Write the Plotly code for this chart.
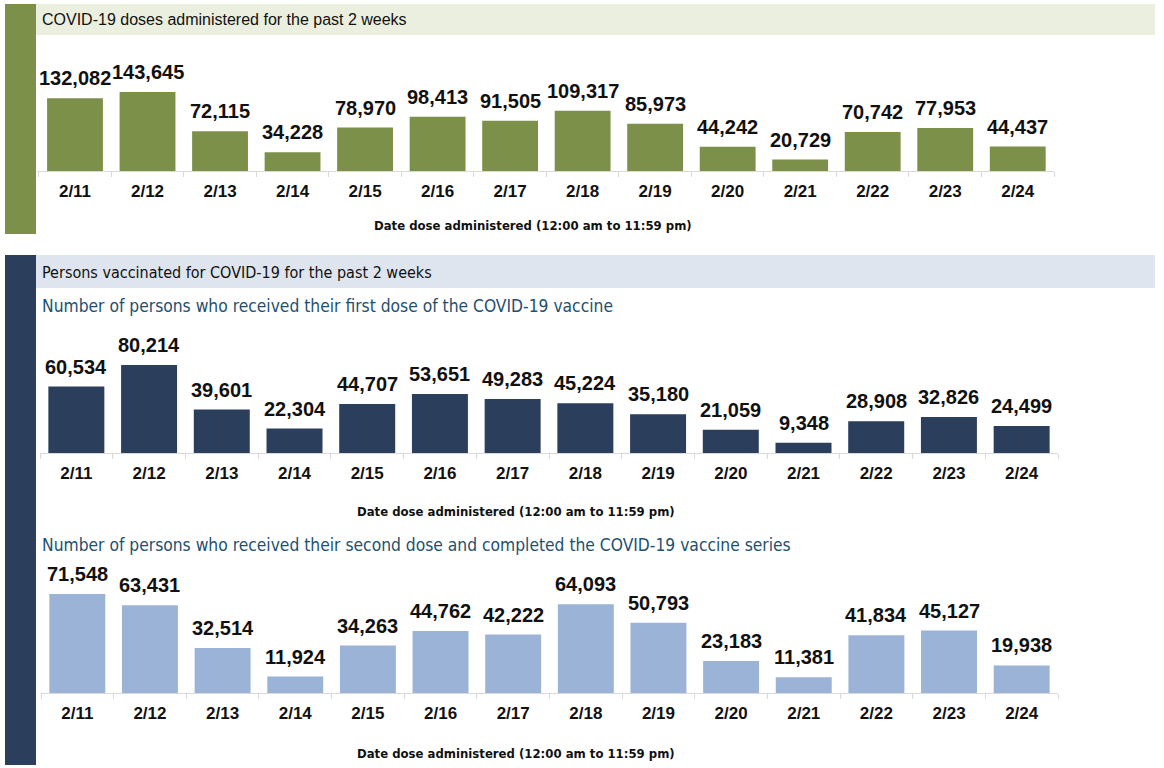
import plotly.graph_objects as go

W, H = 1164, 768

dates = ['2/11', '2/12', '2/13', '2/14', '2/15', '2/16', '2/17',
         '2/18', '2/19', '2/20', '2/21', '2/22', '2/23', '2/24']
doses_administered = [132082, 143645, 72115, 34228, 78970, 98413, 91505,
                      109317, 85973, 44242, 20729, 70742, 77953, 44437]
first_dose = [60534, 80214, 39601, 22304, 44707, 53651, 49283,
              45224, 35180, 21059, 9348, 28908, 32826, 24499]
second_dose = [71548, 63431, 32514, 11924, 34263, 44762, 42222,
               64093, 50793, 23183, 11381, 41834, 45127, 19938]

title_top = "COVID-19 doses administered for the past 2 weeks"
title_persons = "Persons vaccinated for COVID-19 for the past 2 weeks"
sub_first = "Number of persons who received their first dose of the COVID-19 vaccine"
sub_second = "Number of persons who received their second dose and completed the COVID-19 vaccine series"
x_title = "Date dose administered (12:00 am to 11:59 pm)"

GREEN = "#7D9049"
GREEN_BAND = "#EBEFDF"
NAVY = "#2B3E5C"
BLUE_BAND = "#DEE5EF"
LIGHT_BLUE = "#9BB3D6"
SUB_COLOR = "#22506F"
NARROW = "Liberation Sans Narrow, DejaVu Sans Condensed, Liberation Sans"

def px_x(x):
    return x / W

def px_y(y):
    return 1 - y / H

panels = [
    (doses_administered, GREEN, (37, 1054), (40, 171), 238000, "x", "y"),
    (first_dose, NAVY, (40, 1058), (330, 453), 112000, "x2", "y2"),
    (second_dose, LIGHT_BLUE, (41, 1058), (575, 693), 85300, "x3", "y3"),
]

fig = go.Figure()
annotations = []
layout_axes = {}
for i, (vals, color, (x0, x1), (yt, yb), ymax, xa, ya) in enumerate(panels):
    fig.add_trace(go.Bar(x=dates, y=vals, marker=dict(color=color, line=dict(width=0)),
                         xaxis=xa, yaxis=ya, showlegend=False, hoverinfo="x+y"))
    suffix = "" if i == 0 else str(i + 1)
    layout_axes["xaxis" + suffix] = dict(
        domain=[px_x(x0), px_x(x1)], anchor="y" + suffix, type="category",
        showline=True, linecolor="#D9D9D9", linewidth=1,
        ticks="outside", tickson="boundaries", ticklen=5, tickcolor="#D9D9D9",
        tickfont=dict(family="Liberation Sans", size=17, color="#111111", weight="bold"),
        ticklabelstandoff=5, showgrid=False, zeroline=False, fixedrange=True)
    layout_axes["yaxis" + suffix] = dict(
        domain=[px_y(yb), px_y(yt)], anchor="x" + suffix, range=[0, ymax],
        visible=False, showgrid=False, zeroline=False, fixedrange=True)
    for d, v in zip(dates, vals):
        annotations.append(dict(
            x=d, y=v, xref=xa, yref=ya, text=f"{v:,}", showarrow=False,
            yanchor="bottom", yshift=7,
            font=dict(family="Liberation Sans", size=20, color="#111111", weight="bold")))

annotations += [
    dict(x=px_x(40), y=px_y(20), xref="paper", yref="paper", xanchor="left", yanchor="middle",
         text=title_top, showarrow=False,
         font=dict(family="Liberation Sans", size=16, color="#111111")),
    dict(x=px_x(40), y=px_y(272), xref="paper", yref="paper", xanchor="left", yanchor="middle",
         text=title_persons, showarrow=False,
         font=dict(family=NARROW, size=16, color="#111111")),
    dict(x=px_x(40), y=px_y(306), xref="paper", yref="paper", xanchor="left", yanchor="middle",
         text=sub_first, showarrow=False,
         font=dict(family=NARROW, size=17.3, color=SUB_COLOR)),
    dict(x=px_x(40), y=px_y(545), xref="paper", yref="paper", xanchor="left", yanchor="middle",
         text=sub_second, showarrow=False,
         font=dict(family=NARROW, size=17.3, color=SUB_COLOR)),
]
for cx, cy in [(533, 225), (516, 511), (516, 753)]:
    annotations.append(dict(
        x=px_x(cx), y=px_y(cy), xref="paper", yref="paper", xanchor="center", yanchor="middle",
        text=f"<b>{x_title}</b>", showarrow=False,
        font=dict(family=NARROW, size=13, color="#111111")))

shapes = [
    dict(type="rect", xref="paper", yref="paper", x0=px_x(36), x1=px_x(1155), y0=px_y(35), y1=px_y(4),
         fillcolor=GREEN_BAND, line=dict(width=0), layer="below"),
    dict(type="rect", xref="paper", yref="paper", x0=px_x(5), x1=px_x(36), y0=px_y(234), y1=px_y(4),
         fillcolor=GREEN, line=dict(width=0), layer="below"),
    dict(type="rect", xref="paper", yref="paper", x0=px_x(36), x1=px_x(1155), y0=px_y(288), y1=px_y(255),
         fillcolor=BLUE_BAND, line=dict(width=0), layer="below"),
    dict(type="rect", xref="paper", yref="paper", x0=px_x(5), x1=px_x(36), y0=px_y(765), y1=px_y(255),
         fillcolor=NAVY, line=dict(width=0), layer="below"),
]

fig.update_layout(
    width=W, height=H, margin=dict(l=0, r=0, t=0, b=0),
    paper_bgcolor="white", plot_bgcolor="white",
    bargap=0.23, annotations=annotations, shapes=shapes,
    font=dict(family="Liberation Sans"),
    **layout_axes)

fig.write_html("out.html", config={"displayModeBar": False},
               post_script="document.body.style.margin='0';document.body.style.overflow='hidden';")
